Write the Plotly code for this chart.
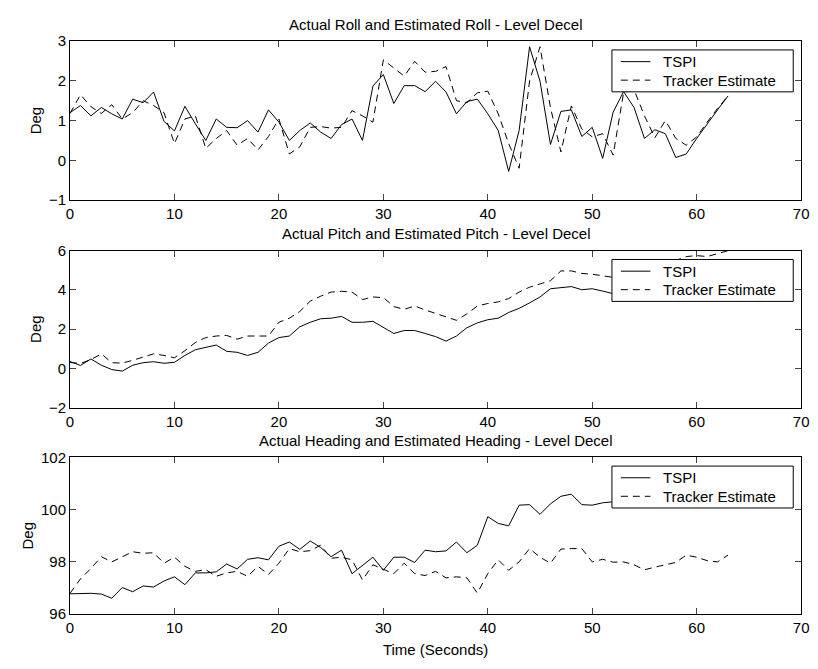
import plotly.graph_objects as go

W, H = 818, 669

time_s = list(range(64))

roll_tspi = [1.2, 1.38, 1.12, 1.33, 1.17, 1.04, 1.54, 1.45, 1.72, 0.98,
             0.74, 1.36, 0.92, 0.5, 1.04, 0.83, 0.82, 1.0, 0.71, 1.27,
             0.96, 0.5, 0.75, 0.94, 0.71, 0.55, 0.9, 1.04, 0.5, 1.87,
             2.16, 1.43, 1.88, 1.88, 1.73, 1.99, 1.72, 1.17, 1.48, 1.54,
             1.17, 0.75, -0.28, 0.75, 2.86, 1.99, 0.4, 1.23, 1.27, 0.6,
             0.83, 0.05, 1.21, 1.73, 1.33, 0.55, 0.77, 0.67, 0.07, 0.16,
             0.55, 0.92, 1.27, 1.62]
roll_est = [1.18, 1.65, 1.35, 1.18, 1.4, 1.04, 1.2, 1.5, 1.38, 1.2,
            0.42, 1.04, 1.12, 0.3, 0.55, 0.75, 0.38, 0.55, 0.26, 0.6,
            1.04, 0.16, 0.34, 0.83, 0.85, 0.81, 0.83, 1.25, 1.12, 0.96,
            2.53, 2.32, 2.12, 2.49, 2.22, 2.24, 2.36, 1.5, 1.45, 1.7,
            1.74, 1.17, 0.42, -0.2, 2.0, 2.86, 1.33, 0.21, 1.37, 0.79,
            0.59, 0.67, 0.13, 1.7, 1.78, 1.12, 0.57, 1.0, 0.55, 0.38,
            0.59, 0.96, 1.31, 1.62]

pitch_tspi = [0.35, 0.15, 0.48, 0.16, -0.06, -0.14, 0.16, 0.29, 0.34, 0.26,
              0.31, 0.66, 0.95, 1.07, 1.19, 0.87, 0.82, 0.66, 0.82, 1.29,
              1.57, 1.65, 2.12, 2.35, 2.53, 2.56, 2.65, 2.35, 2.35, 2.4,
              2.07, 1.78, 1.93, 1.93, 1.78, 1.62, 1.39, 1.65, 2.07, 2.32,
              2.48, 2.56, 2.85, 3.06, 3.34, 3.64, 4.06, 4.11, 4.17, 4.01,
              4.06, 3.94, 3.81, 3.85, 3.9, 4.0, 4.1, 4.25, 4.4, 4.5,
              4.65, 4.8, 4.9, 5.05]
pitch_est = [0.3, 0.25, 0.45, 0.74, 0.29, 0.27, 0.41, 0.56, 0.74, 0.66,
             0.54, 0.9, 1.32, 1.57, 1.65, 1.68, 1.49, 1.65, 1.65, 1.65,
             2.35, 2.56, 2.9, 3.43, 3.68, 3.89, 3.93, 3.89, 3.51, 3.64,
             3.61, 3.15, 3.01, 3.18, 2.98, 2.81, 2.65, 2.45, 2.78, 3.18,
             3.31, 3.39, 3.56, 3.89, 4.14, 4.31, 4.47, 4.97, 4.97, 4.84,
             4.8, 4.72, 4.64, 4.75, 4.85, 5.0, 5.1, 5.3, 5.5, 5.7,
             5.75, 5.7, 5.85, 6.0]

head_tspi = [96.78, 96.8, 96.8, 96.77, 96.61, 97.02, 96.86, 97.08, 97.04, 97.27,
             97.43, 97.13, 97.58, 97.58, 97.62, 97.92, 97.73, 98.1, 98.16, 98.08,
             98.6, 98.76, 98.48, 98.8, 98.55, 98.2, 98.45, 97.55, 97.87, 98.18,
             97.68, 98.18, 98.18, 97.98, 98.45, 98.39, 98.42, 98.76, 98.35, 98.64,
             99.73, 99.47, 99.38, 100.17, 100.19, 99.82, 100.22, 100.51, 100.59, 100.19,
             100.17, 100.26, 100.3, 100.35, 100.5, 100.45, 100.6, 100.7, 100.65, 100.8,
             100.9, 100.85, 101.0, 101.1]
head_est = [96.8, 97.35, 97.75, 98.2, 98.0, 98.2, 98.39, 98.33, 98.35, 97.95,
            98.18, 97.83, 97.64, 97.7, 97.45, 97.58, 97.64, 97.45, 97.83, 97.52,
            97.95, 98.51, 98.39, 98.43, 98.64, 98.14, 98.18, 98.08, 97.31, 97.89,
            97.73, 97.55, 97.95, 97.55, 97.48, 97.64, 97.39, 97.43, 97.39, 96.81,
            97.55, 98.08, 97.68, 98.0, 98.51, 98.18, 97.95, 98.49, 98.51, 98.51,
            98.0, 98.1, 97.99, 98.0, 97.89, 97.7, 97.8, 97.89, 97.98, 98.26,
            98.18, 98.05, 98.0, 98.26]

titles = ["Actual Roll and Estimated Roll - Level Decel",
          "Actual Pitch and Estimated Pitch - Level Decel",
          "Actual Heading and Estimated Heading - Level Decel"]
x_ticks = [0, 10, 20, 30, 40, 50, 60, 70]
y_ticks = [[-1, 0, 1, 2, 3], [-2, 0, 2, 4, 6], [96, 98, 100, 102]]
y_ranges = [[-1, 3], [-2, 6], [96, 102]]
series = [(roll_tspi, roll_est), (pitch_tspi, pitch_est), (head_tspi, head_est)]
names = ["TSPI", "Tracker Estimate"]

FONT = "Liberation Sans, Arial, Helvetica, sans-serif"
FS = 15
DASH = "7px,5px"

# pixel layout
x_left, x_right = 67, 809
panel_px = [(33, 196), (248, 409), (460, 621)]


def px_x(p):
    return p / W


def px_y(p):
    return 1 - p / H


fig = go.Figure()
shapes, annotations = [], []
layout = dict(width=W, height=H, margin=dict(l=0, r=0, t=0, b=0),
              paper_bgcolor="white", plot_bgcolor="white", showlegend=False,
              font=dict(family=FONT, size=FS, color="black"))

xd = [px_x(x_left), px_x(x_right)]
for i, ((ys, ye), (top, bot)) in enumerate(zip(series, panel_px)):
    k = "" if i == 0 else str(i + 1)
    fig.add_trace(go.Scatter(x=time_s, y=ys, mode="lines", name=names[0],
                             line=dict(color="black", width=1),
                             xaxis="x" + k, yaxis="y" + k))
    fig.add_trace(go.Scatter(x=time_s, y=ye, mode="lines", name=names[1],
                             line=dict(color="black", width=1, dash=DASH),
                             xaxis="x" + k, yaxis="y" + k))
    yd = [px_y(bot), px_y(top)]
    layout["xaxis" + k] = dict(domain=xd, range=[0, 70], tickvals=x_ticks,
                               ticks="inside", ticklen=6, showline=True,
                               linecolor="black", linewidth=1, mirror="ticks",
                               showgrid=False, zeroline=False,
                               anchor="y" + k, tickfont=dict(size=FS),
                               title=dict(text="Time (Seconds)" if i == 2 else "",
                                          standoff=9, font=dict(size=FS)))
    layout["yaxis" + k] = dict(domain=yd, range=y_ranges[i], tickvals=y_ticks[i],
                               ticks="inside", ticklen=6, showline=True,
                               linecolor="black", linewidth=1, mirror="ticks",
                               showgrid=False, zeroline=False,
                               anchor="x" + k, tickfont=dict(size=FS),
                               title=dict(text="Deg", standoff=3, font=dict(size=FS)))
    # title
    annotations.append(dict(text=titles[i], xref="paper", yref="paper",
                            x=(xd[0] + xd[1]) / 2, y=yd[1],
                            xanchor="center", yanchor="middle", yshift=17,
                            showarrow=False, font=dict(size=FS)))
    # legend box (drawn like the MATLAB legend)
    lt = top + 9
    shapes.append(dict(type="rect", xref="paper", yref="paper", layer="above",
                       x0=px_x(617), x1=px_x(801), y0=px_y(lt + 43), y1=px_y(lt),
                       line=dict(color="black", width=1), fillcolor="white"))
    for j, (nm, dash) in enumerate(zip(names, ["solid", DASH])):
        ry = lt + 12 + 19 * j
        shapes.append(dict(type="line", xref="paper", yref="paper", layer="above",
                           x0=px_x(626), x1=px_x(656), y0=px_y(ry), y1=px_y(ry),
                           line=dict(color="black", width=1, dash=dash)))
        annotations.append(dict(text=nm, xref="paper", yref="paper",
                                x=px_x(667), y=px_y(ry), xanchor="left",
                                yanchor="middle", showarrow=False,
                                font=dict(size=FS)))

layout["shapes"] = shapes
layout["annotations"] = annotations
fig.update_layout(**layout)
fig.write_html("out.html", config={"displayModeBar": False},
               post_script="document.body.style.margin='0';"
                           "document.body.style.overflow='hidden';")
